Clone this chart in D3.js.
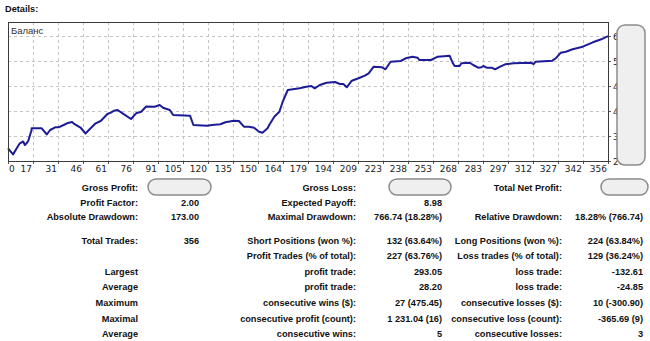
<!DOCTYPE html>
<html>
<head>
<meta charset="utf-8">
<script src="https://cdn.jsdelivr.net/npm/d3@7"></script>
<style>
  html, body { margin: 0; padding: 0; background: #fff; }
  svg { display: block; }
</style>
</head>
<body>
<script>
// ---------- data ----------
const trades = [0,3,5,7,9,10,11,12,14,14,20,23,25,28,30,33,35,38,39,43,46,48,52,55,59,61,63,65,68,73,76,79,82,87,90,92,96,98,108,110,118,121,126,129,134,137,140,143,146,149,151,154,155,158,161,163,166,169,173,177,180,182,185,189,194,197,199,201,204,208,212,214,217,222,224,227,233,236,240,243,244,251,255,262,264,265,268,269,274,276,279,281,282,284,287,289,292,295,300,310,312,313,323,325,328,331,335,341,347,352,356];
const balance = [2962,2789,2948,3105,3156,3056,3105,3170,3484,3533,3533,3356,3484,3561,3561,3627,3675,3712,3669,3555,3384,3484,3675,3741,3940,3978,4035,4055,3960,3798,3960,4006,4154,4149,4197,4120,4055,3912,3892,3627,3607,3627,3647,3704,3749,3741,3578,3578,3550,3436,3407,3533,3627,3863,4006,4291,4625,4645,4673,4719,4739,4673,4768,4833,4853,4796,4796,4702,4890,4959,5044,5101,5289,5272,5215,5432,5452,5529,5575,5546,5481,5481,5575,5603,5386,5309,5309,5386,5403,5338,5261,5272,5309,5261,5261,5215,5289,5358,5386,5403,5366,5432,5461,5529,5689,5717,5786,5860,5985,6071,6159];

const xTickLabels = ["0","17","31","46","61","76","91","105","120","135","150","164","179","194","209","223","238","253","268","283","297","312","327","342","356"];
const yTickValues = [2600,3313,4026,4739,5452,6165];

const col1Labels = ["Gross Profit:","Profit Factor:","Absolute Drawdown:","Total Trades:","","Largest","Average","Maximum","Maximal","Average"];
const col1Values = [null,"2.00","173.00","356","","","","","",""];
const col2Labels = ["Gross Loss:","Expected Payoff:","Maximal Drawdown:","Short Positions (won %):","Profit Trades (% of total):","profit trade:","profit trade:","consecutive wins ($):","consecutive profit (count):","consecutive wins:"];
const col2Values = [null,"8.98","766.74 (18.28%)","132 (63.64%)","227 (63.76%)","293.05","28.20","27 (475.45)","1 231.04 (16)","5"];
const col3Labels = ["Total Net Profit:","","Relative Drawdown:","Long Positions (won %):","Loss trades (% of total):","loss trade:","loss trade:","consecutive losses ($):","consecutive loss (count):","consecutive losses:"];
const col3Values = [null,"","18.28% (766.74)","224 (63.84%)","129 (36.24%)","-132.61","-24.85","10 (-300.90)","-365.69 (9)","3"];

// ---------- layout ----------
const W = 650, H = 341;
const plot = {left: 8, right: 608, top: 22, bottom: 161};

const svg = d3.select("body").append("svg")
  .attr("width", W).attr("height", H)
  .style("font-family", "'Liberation Sans', Arial, sans-serif");

const x = d3.scaleLinear().domain([0, 356]).range([plot.left, plot.right]);
const y = d3.scaleLinear().domain([2600, 2600 + (plot.bottom - plot.top) * 713 / 25]).range([plot.bottom, plot.top]);

// Title
svg.append("text").attr("x", 5).attr("y", 12)
  .attr("font-weight", "bold").attr("font-size", 9.2).attr("fill", "#111")
  .text("Details:");

// plot background
svg.append("rect")
  .attr("x", plot.left).attr("y", plot.top)
  .attr("width", plot.right - plot.left).attr("height", plot.bottom - plot.top)
  .attr("fill", "#fff");

// grid
const xGrid = d3.range(xTickLabels.length).map(i => i * 356 / (xTickLabels.length - 1));
svg.append("g").selectAll("line.vg").data(xGrid.slice(1, -1)).join("line")
  .attr("x1", d => Math.round(x(d)) + 0.5).attr("x2", d => Math.round(x(d)) + 0.5)
  .attr("y1", plot.top).attr("y2", plot.bottom)
  .attr("stroke", "#c4c4c4").attr("stroke-dasharray", "3,3");
svg.append("g").selectAll("line.hg").data(yTickValues.slice(1)).join("line")
  .attr("x1", plot.left).attr("x2", plot.right)
  .attr("y1", d => Math.round(y(d)) + 0.5).attr("y2", d => Math.round(y(d)) + 0.5)
  .attr("stroke", "#c4c4c4").attr("stroke-dasharray", "3,3");

// bottom axis ticks
svg.append("g").selectAll("line").data(xGrid).join("line")
  .attr("x1", d => Math.round(x(d)) + 0.5).attr("x2", d => Math.round(x(d)) + 0.5)
  .attr("y1", plot.bottom).attr("y2", plot.bottom + 3)
  .attr("stroke", "#555");
// right axis ticks
svg.append("g").selectAll("line").data(yTickValues).join("line")
  .attr("x1", plot.right).attr("x2", plot.right + 3)
  .attr("y1", d => Math.round(y(d)) + 0.5).attr("y2", d => Math.round(y(d)) + 0.5)
  .attr("stroke", "#555");

// x labels
svg.append("g").selectAll("text").data(xGrid).join("text")
  .attr("x", (d, i) => i === 0 ? x(d) + 1 : x(d) - 1)
  .attr("y", 172)
  .attr("text-anchor", (d, i) => i === 0 ? "start" : "end")
  .attr("font-family", "'DejaVu Sans', Verdana, sans-serif")
  .attr("font-size", 9).attr("fill", "#222")
  .text((d, i) => xTickLabels[i]);

// y labels
svg.append("g").selectAll("text").data(yTickValues).join("text")
  .attr("x", plot.right + 5).attr("y", d => y(d) + 3.5)
  .attr("font-family", "'DejaVu Sans', Verdana, sans-serif")
  .attr("font-size", 9).attr("fill", "#222")
  .text(d => d);

// line
const line = d3.line().x((d, i) => x(trades[i])).y(d => y(d));
svg.append("path").datum(balance)
  .attr("d", line).attr("fill", "none")
  .attr("stroke", "#1c1c96").attr("stroke-width", 2)
  .attr("stroke-linejoin", "round");

// border
svg.append("rect")
  .attr("x", plot.left + 0.5).attr("y", plot.top + 0.5)
  .attr("width", plot.right - plot.left).attr("height", plot.bottom - plot.top)
  .attr("fill", "none").attr("stroke", "#3a3a3a");

svg.append("text").attr("x", 11).attr("y", 34)
  .attr("font-size", 9.5).attr("fill", "#333").text("Баланс");

// redaction box over y labels
function pill(x0, y0, w, h, r) {
  svg.append("rect").attr("x", x0).attr("y", y0).attr("width", w).attr("height", h)
    .attr("rx", r).attr("ry", r)
    .attr("fill", "#efefef").attr("stroke", "#8c8c8c").attr("stroke-width", 1.5);
}
pill(617, 25, 28, 140, 8);

// ---------- stats ----------
const rowY = i => i < 3 ? 191 + i * 14.7 : 243.5 + (i - 3) * 15.6;
const cols = [
  {labels: col1Labels, values: col1Values, lx: 138, vx: 199, box: [148, 63]},
  {labels: col2Labels, values: col2Values, lx: 356, vx: 442, box: [389, 62]},
  {labels: col3Labels, values: col3Values, lx: 562, vx: 643, box: [601, 47]}
];
const stats = svg.append("g").attr("font-weight", "bold").attr("font-size", 9.2).attr("fill", "#111");
cols.forEach(c => {
  c.labels.forEach((t, i) => {
    if (t) stats.append("text").attr("x", c.lx).attr("y", rowY(i)).attr("text-anchor", "end").text(t);
    const v = c.values[i];
    if (v === null) pill(c.box[0], rowY(i) - 12, c.box[1], 16, 8);
    else if (v) stats.append("text").attr("x", c.vx).attr("y", rowY(i)).attr("text-anchor", "end").text(v);
  });
});
</script>
</body>
</html>
